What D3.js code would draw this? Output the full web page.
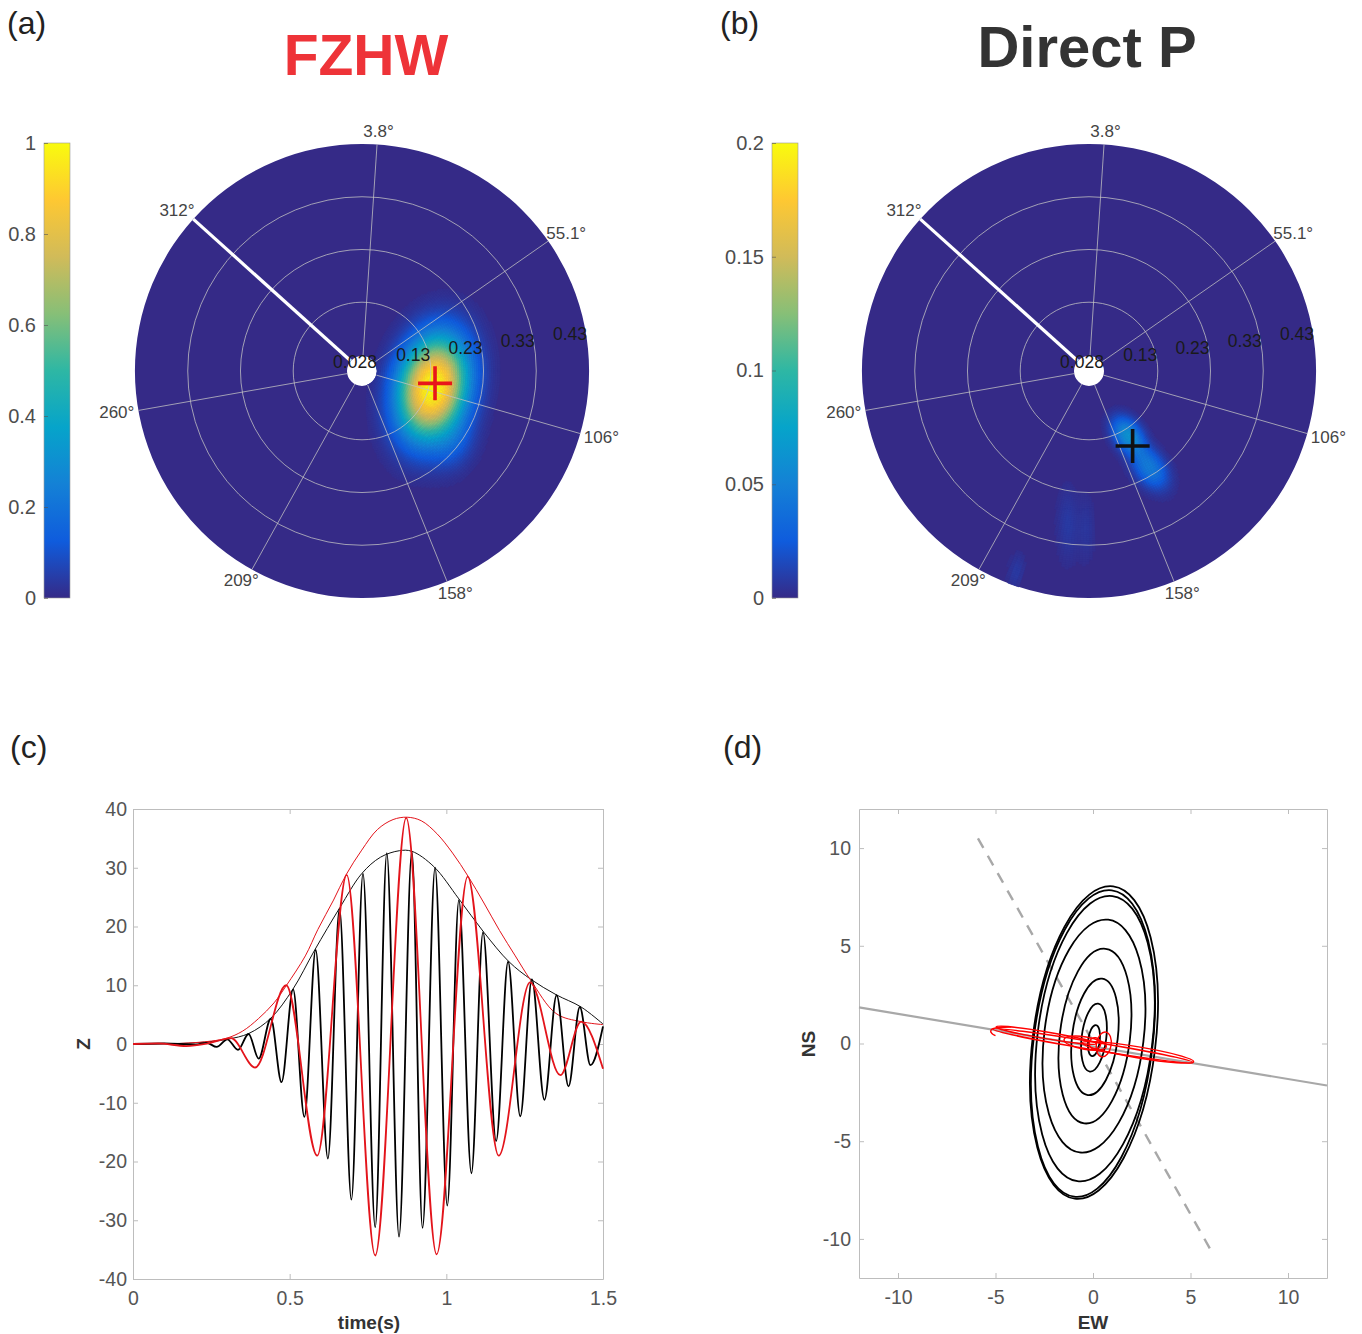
<!DOCTYPE html>
<html>
<head>
<meta charset="utf-8">
<script src="https://cdn.jsdelivr.net/npm/d3@7"></script>
<style>
  body { margin: 0; background: #fff; }
  svg text { font-family: "Liberation Sans", Arial, sans-serif; }
</style>
</head>
<body>
<svg id="fig" width="1362" height="1334"></svg>
<script>
/* ---------- DATA ---------- */
// polar (slowness / back-azimuth) panels
const radialTicks = [0.028, 0.13, 0.23, 0.33, 0.43];
const azimuthTicks = [3.8, 55.1, 106, 158, 209, 260, 312];
const seamAz = 312;

// energy peaks (az in deg, r in s/km, widths in s/km)
const fzhwPeaks = [
  { az: 103.5, r: 0.138, amp: 1.0, sMaj: 0.072, sMin: 0.047, orient: 12, shape: 1.15 },
  { az: 128.5, r: 0.225, amp: 0.08, sMaj: 0.035, sMin: 0.025, orient: 20, shape: 1 }
];
const directPeaks = [
  { az: 149, r: 0.143, amp: 0.062, sMaj: 0.027, sMin: 0.018, orient: 145, shape: 1.1 },
  { az: 148, r: 0.217, amp: 0.046, sMaj: 0.031, sMin: 0.020, orient: 145, shape: 1.1 },
  { az: 188, r: 0.294, amp: 0.008, sMaj: 0.050, sMin: 0.014, orient: 0, shape: 1 },
  { az: 181, r: 0.300, amp: 0.006, sMaj: 0.045, sMin: 0.012, orient: 0, shape: 1 },
  { az: 200, r: 0.405, amp: 0.008, sMaj: 0.025, sMin: 0.010, orient: 10, shape: 1 }
];
const fzhwCross = { az: 99.6, r: 0.140 };
const directCross = { az: 149.8, r: 0.164 };
const fzhwBarTicks = [0, 0.2, 0.4, 0.6, 0.8, 1];
const directBarTicks = [0, 0.05, 0.1, 0.15, 0.2];

// parula colour map
const parulaStops = ["#352a87", "#0f5cdd", "#1481d6", "#06a4ca", "#2eb7a4",
                     "#87bf77", "#d1bb59", "#fec832", "#f9fb0e"];

// (c) vertical component, extrema of the traces (time s, amplitude)
const blackT = [0, 0.10, 0.20, 0.235, 0.267, 0.301, 0.335, 0.369, 0.401, 0.440, 0.474,
  0.511, 0.547, 0.583, 0.622, 0.659, 0.697, 0.734, 0.773, 0.810, 0.849, 0.890, 0.924,
  0.964, 1.003, 1.040, 1.080, 1.117, 1.159, 1.197, 1.236, 1.273, 1.313, 1.352, 1.390,
  1.426, 1.460, 1.500];
const blackZ = [0, 0.1, -0.1, 0.2, -0.5, 0.8, -1.0, 1.7, -2.5, 4.3, -6.5,
  9.3, -12.4, 16, -19.5, 23, -26.5, 29, -31.2, 32.5, -32.8, 32.7, -31.3,
  30, -27.5, 24.5, -22, 19, -16.5, 14, -12.3, 11, -9.5, 8.3, -7.2,
  6.3, -3.6, 3.0];
const redT = [0, 0.08, 0.17, 0.24, 0.313, 0.390, 0.489, 0.588, 0.682, 0.773, 0.872,
  0.969, 1.068, 1.167, 1.267, 1.364, 1.430, 1.500];
const redZ = [0, 0.1, -0.35, 0.1, 1.0, -4.0, 10, -19, 28.8, -36, 38.5,
  -35.8, 28.5, -19, 10.5, -5.3, 3.8, -4.2];
const blackEnvT = [0, 0.2, 0.3, 0.37, 0.44, 0.51, 0.58, 0.66, 0.73, 0.79, 0.85, 0.89,
  0.96, 1.04, 1.12, 1.20, 1.27, 1.35, 1.43, 1.5];
const blackEnvZ = [0, 0.2, 0.8, 1.8, 4.4, 9.3, 16, 23.2, 29, 31.8, 32.9, 32.8,
  30.2, 24.7, 19, 14, 11, 8.4, 6.3, 3.4];
const redEnvT = [0, 0.15, 0.25, 0.30, 0.35, 0.40, 0.45, 0.49, 0.55, 0.59, 0.64, 0.68,
  0.73, 0.78, 0.83, 0.875, 0.92, 0.97, 1.02, 1.07, 1.12, 1.17, 1.22, 1.27, 1.35, 1.43, 1.5];
const redEnvZ = [0, 0.1, 0.5, 1.0, 2.2, 4.3, 7.0, 10, 15, 19.5, 24.5, 28.8,
  33, 36.5, 38.2, 38.6, 38, 35.8, 32.5, 28.5, 24, 19.3, 15, 10.8, 5.2, 3.8, 3.3];
const timeTicks = [0, 0.5, 1, 1.5];
const zTicks = [-40, -30, -20, -10, 0, 10, 20, 30, 40];

// (d) particle motion
const blackLoops = [
  { cx: 0.05, cy: 0.05, a: 8.05, b: 3.15 },
  { cx: 0.00, cy: 0.00, a: 7.90, b: 3.05 },
  { cx: 0.10, cy: 0.25, a: 7.35, b: 2.95 },
  { cx: 0.05, cy: 0.38, a: 6.00, b: 2.55 },
  { cx: 0.10, cy: 0.38, a: 4.50, b: 1.80 },
  { cx: 0.10, cy: 0.34, a: 3.00, b: 1.17 },
  { cx: 0.05, cy: 0.30, a: 1.75, b: 0.63 },
  { cx: 0.05, cy: 0.15, a: 0.80, b: 0.30 }
];
const blackTilt = 7;
const redLoops = [
  { cx: 0.00, cy: -0.12, a: 5.2, b: 0.20 },
  { cx: -2.40, cy: 0.42, a: 2.6, b: 0.17 },
  { cx: 2.30, cy: -0.45, a: 2.9, b: 0.28 },
  { cx: -0.40, cy: 0.02, a: 1.1, b: 0.32 },
  { cx: 0.55, cy: -0.05, a: 0.38, b: 0.64 },
  { cx: 0.10, cy: 0.00, a: 0.30, b: 0.30 }
];
const redHook = [[-4.2, 0.85], [-5.0, 0.82], [-5.3, 0.7], [-5.2, 0.5], [-5.0, 0.4]];
const solidLine = [[-12, 1.85], [12, -2.15]];
const dashedLine = [[-5.9, 10.5], [6.0, -10.5]];
const ewTicks = [-10, -5, 0, 5, 10];
const nsTicks = [-10, -5, 0, 5, 10];

/* ---------- SETUP ---------- */
const svg = d3.select("#fig");
const fmt = d => d3.format("~g")(d).replace("\u2212", "-");
const parula = d3.scaleLinear()
  .domain(parulaStops.map((c, i) => i / (parulaStops.length - 1)))
  .range(parulaStops)
  .interpolate(d3.interpolateRgb)
  .clamp(true);
const rad = d => d * Math.PI / 180;

// panel labels and titles
[["(a)", 7, 34], ["(b)", 720, 34], ["(c)", 10, 758], ["(d)", 723, 758]].forEach(([t, x, y]) => {
  svg.append("text").attr("x", x).attr("y", y).attr("font-size", 32)
    .attr("fill", "#222").text(t);
});
svg.append("text").attr("x", 366).attr("y", 75).attr("text-anchor", "middle")
  .attr("font-size", 57).attr("font-weight", "bold").attr("fill", "#ee3338").text("FZHW");
svg.append("text").attr("x", 1087).attr("y", 67).attr("text-anchor", "middle")
  .attr("font-size", 58).attr("font-weight", "bold").attr("fill", "#333").text("Direct P");

/* ---------- POLAR PANELS ---------- */
function drawPolar(cx, cy, peaks, vmax, cross, crossColor, barX, barTicks) {
  const rS = d3.scaleLinear().domain([0.028, 0.43]).range([15, 227]);
  const K = rS(1) - rS(0);
  const xy = (az, rp) => [rp * Math.sin(rad(az)), -rp * Math.cos(rad(az))];
  const g = svg.append("g").attr("transform", `translate(${cx},${cy})`);
  const arc = d3.arc();

  // background disk
  g.append("path")
    .attr("d", arc({ innerRadius: rS(0.028), outerRadius: rS(0.43), startAngle: 0, endAngle: 2 * Math.PI }))
    .attr("fill", parula(0));

  // heat cells
  const nR = 100, nA = 360;
  const dr = (0.43 - 0.028) / nR;
  const cells = [];
  for (let i = 0; i < nR; i++) {
    const r0 = 0.028 + i * dr, r1 = r0 + dr;
    const rp = rS((r0 + r1) / 2);
    for (let j = 0; j < nA; j++) {
      const az = j + 0.5;
      const [px, py] = xy(az, rp);
      const v = d3.sum(peaks, s => {
        const [sx, sy] = xy(s.az, rS(s.r));
        const dx = px - sx, dy = py - sy, o = rad(s.orient);
        const u = dx * Math.sin(o) - dy * Math.cos(o);
        const w = dx * Math.cos(o) + dy * Math.sin(o);
        const su = s.sMaj * K, sv = s.sMin * K;
        return s.amp * Math.exp(-0.5 * Math.pow(u * u / (su * su) + w * w / (sv * sv), s.shape));
      });
      if (v / vmax > 0.01) cells.push({ r0, r1, a0: j, a1: j + 1, v });
    }
  }
  g.selectAll("path.cell").data(cells).join("path")
    .attr("class", "cell")
    .attr("d", d => arc({ innerRadius: rS(d.r0), outerRadius: rS(d.r1),
      startAngle: rad(d.a0), endAngle: rad(d.a1) }))
    .attr("fill", d => parula(d.v / vmax))
    .attr("stroke", d => parula(d.v / vmax))
    .attr("stroke-width", 0.6);

  // grid rings and rays
  g.selectAll("circle.ring").data(radialTicks.slice(1, -1)).join("circle")
    .attr("class", "ring").attr("r", d => rS(d))
    .attr("fill", "none").attr("stroke", "#c4c4c4").attr("stroke-width", 0.9).attr("opacity", 0.85);
  g.selectAll("line.ray").data(azimuthTicks).join("line")
    .attr("class", "ray")
    .attr("x1", d => xy(d, rS(0.028))[0]).attr("y1", d => xy(d, rS(0.028))[1])
    .attr("x2", d => xy(d, rS(0.43))[0]).attr("y2", d => xy(d, rS(0.43))[1])
    .attr("stroke", "#c4c4c4").attr("stroke-width", 0.9).attr("opacity", 0.85);
  g.append("line")
    .attr("x1", xy(seamAz, rS(0.028))[0]).attr("y1", xy(seamAz, rS(0.028))[1])
    .attr("x2", xy(seamAz, rS(0.43))[0]).attr("y2", xy(seamAz, rS(0.43))[1])
    .attr("stroke", "#fff").attr("stroke-width", 3.2);

  // cross marker
  const [mx, my] = xy(cross.az, rS(cross.r));
  g.append("path").attr("d", `M${mx - 17},${my}H${mx + 17}M${mx},${my - 17}V${my + 17}`)
    .attr("stroke", crossColor).attr("stroke-width", 3.6);

  // radial labels
  g.selectAll("text.rl").data(radialTicks).join("text")
    .attr("class", "rl")
    .attr("x", d => xy(82.5, rS(d))[0]).attr("y", d => xy(82.5, rS(d))[1] - 7)
    .attr("text-anchor", "end").attr("dominant-baseline", "central")
    .attr("font-size", 17.5).attr("fill", "#1a1a1a").text(d => fmt(d));

  // azimuth labels
  g.selectAll("text.al").data(azimuthTicks).join("text")
    .attr("class", "al")
    .attr("x", d => xy(d, 240)[0] + 9 * Math.sin(rad(d)))
    .attr("y", d => xy(d, 240)[1])
    .attr("text-anchor", "middle").attr("dominant-baseline", "central")
    .attr("font-size", 17).attr("fill", "#444").text(d => fmt(d) + "°");

  // colour bar
  const gid = "grad" + barX;
  const grad = svg.append("defs").append("linearGradient").attr("id", gid)
    .attr("x1", 0).attr("y1", 1).attr("x2", 0).attr("y2", 0);
  parulaStops.forEach((c, i) => grad.append("stop")
    .attr("offset", i / (parulaStops.length - 1)).attr("stop-color", c));
  const bS = d3.scaleLinear().domain([0, vmax]).range([598, 143]);
  svg.append("rect").attr("x", barX).attr("y", 143).attr("width", 26).attr("height", 455)
    .attr("fill", `url(#${gid})`).attr("stroke", "#999").attr("stroke-width", 0.6);
  const ax = svg.append("g").attr("transform", `translate(${barX},0)`)
    .call(d3.axisLeft(bS).tickValues(barTicks).tickFormat(fmt)
      .tickSizeInner(-4).tickSizeOuter(0).tickPadding(8));
  ax.select(".domain").remove();
  ax.selectAll(".tick line").attr("stroke", "#555").attr("opacity", 0.6);
  ax.selectAll(".tick text").attr("font-size", 20).attr("fill", "#4d4d4d")
    .style("font-family", "Liberation Sans, Arial, sans-serif");
}

drawPolar(362, 371, fzhwPeaks, 1, fzhwCross, "#e8161b", 44, fzhwBarTicks);
drawPolar(1089, 371, directPeaks, 0.2, directCross, "#111", 772, directBarTicks);

/* ---------- FRAMED AXES ---------- */
function frame(x, y, xTicks, yTicks, yPad) {
  const [l, r] = x.range(), [b, t] = y.range();
  const g = svg.append("g");
  const style = sel => {
    sel.select(".domain").attr("stroke", "#bdbdbd");
    sel.selectAll(".tick line").attr("stroke", "#bdbdbd");
    sel.selectAll(".tick text").attr("font-size", 19.5).attr("fill", "#555")
      .style("font-family", "Liberation Sans, Arial, sans-serif");
  };
  g.append("g").attr("transform", `translate(0,${b})`)
    .call(d3.axisBottom(x).tickValues(xTicks).tickFormat(fmt).tickSizeInner(-5).tickSizeOuter(0).tickPadding(12)).call(style);
  g.append("g").attr("transform", `translate(0,${t})`)
    .call(d3.axisTop(x).tickValues(xTicks).tickFormat("").tickSizeInner(-5).tickSizeOuter(0)).call(style);
  g.append("g").attr("transform", `translate(${l},0)`)
    .call(d3.axisLeft(y).tickValues(yTicks).tickFormat(fmt).tickSizeInner(-5).tickSizeOuter(0).tickPadding(yPad)).call(style);
  g.append("g").attr("transform", `translate(${r},0)`)
    .call(d3.axisRight(y).tickValues(yTicks).tickFormat("").tickSizeInner(-5).tickSizeOuter(0)).call(style);
}

/* ---------- (c) waveforms ---------- */
const xC = d3.scaleLinear().domain([0, 1.5]).range([133, 603]);
const yC = d3.scaleLinear().domain([-40, 40]).range([1279, 809]);
frame(xC, yC, timeTicks, zTicks, 6);
const lineC = d3.line().x(d => xC(d[0])).y(d => yC(d[1])).curve(d3.curveMonotoneX);
const envC = d3.line().x(d => xC(d[0])).y(d => yC(d[1])).curve(d3.curveCatmullRom);
svg.append("path").attr("d", envC(d3.zip(blackEnvT, blackEnvZ)))
  .attr("fill", "none").attr("stroke", "#111").attr("stroke-width", 1);
svg.append("path").attr("d", envC(d3.zip(redEnvT, redEnvZ)))
  .attr("fill", "none").attr("stroke", "#e3141b").attr("stroke-width", 1);
svg.append("path").attr("d", lineC(d3.zip(blackT, blackZ)))
  .attr("fill", "none").attr("stroke", "#000").attr("stroke-width", 1.8);
svg.append("path").attr("d", lineC(d3.zip(redT, redZ)))
  .attr("fill", "none").attr("stroke", "#e3141b").attr("stroke-width", 1.8);
svg.append("text").attr("x", 369).attr("y", 1329).attr("text-anchor", "middle")
  .attr("font-size", 19).attr("font-weight", "bold").attr("fill", "#333").text("time(s)");
svg.append("text").attr("transform", "translate(90,1044) rotate(-90)").attr("text-anchor", "middle")
  .attr("font-size", 19).attr("font-weight", "bold").attr("fill", "#333").text("Z");

/* ---------- (d) particle motion ---------- */
const xD = d3.scaleLinear().domain([-12, 12]).range([859, 1327]);
const yD = d3.scaleLinear().domain([-12, 12]).range([1278, 809]);
frame(xD, yD, ewTicks, nsTicks, 8);
const lineD = d3.line().x(d => xD(d[0])).y(d => yD(d[1]));
svg.append("path").attr("d", lineD(solidLine))
  .attr("stroke", "#a8a8a8").attr("stroke-width", 2.2).attr("fill", "none");
svg.append("path").attr("d", lineD(dashedLine))
  .attr("stroke", "#a8a8a8").attr("stroke-width", 2.4).attr("stroke-dasharray", "11,9").attr("fill", "none");
svg.selectAll("ellipse.bl").data(blackLoops).join("ellipse")
  .attr("class", "bl")
  .attr("transform", d => `translate(${xD(d.cx)},${yD(d.cy)}) rotate(${blackTilt})`)
  .attr("rx", d => xD(d.b) - xD(0)).attr("ry", d => yD(0) - yD(d.a))
  .attr("fill", "none").attr("stroke", "#000").attr("stroke-width", 1.8);
const lineAngle = Math.atan2(yD(solidLine[1][1]) - yD(solidLine[0][1]),
  xD(solidLine[1][0]) - xD(solidLine[0][0])) * 180 / Math.PI;
svg.selectAll("ellipse.rl").data(redLoops).join("ellipse")
  .attr("class", "rl")
  .attr("transform", d => `translate(${xD(d.cx)},${yD(d.cy)}) rotate(${lineAngle})`)
  .attr("rx", d => xD(d.a) - xD(0)).attr("ry", d => yD(0) - yD(d.b))
  .attr("fill", "none").attr("stroke", "#f00").attr("stroke-width", 1.4);
svg.append("path").attr("d", lineD.curve(d3.curveBasis)(redHook))
  .attr("fill", "none").attr("stroke", "#f00").attr("stroke-width", 1.4);
svg.append("text").attr("x", 1093).attr("y", 1329).attr("text-anchor", "middle")
  .attr("font-size", 19).attr("font-weight", "bold").attr("fill", "#333").text("EW");
svg.append("text").attr("transform", "translate(815,1044) rotate(-90)").attr("text-anchor", "middle")
  .attr("font-size", 19).attr("font-weight", "bold").attr("fill", "#333").text("NS");
</script>
</body>
</html>
